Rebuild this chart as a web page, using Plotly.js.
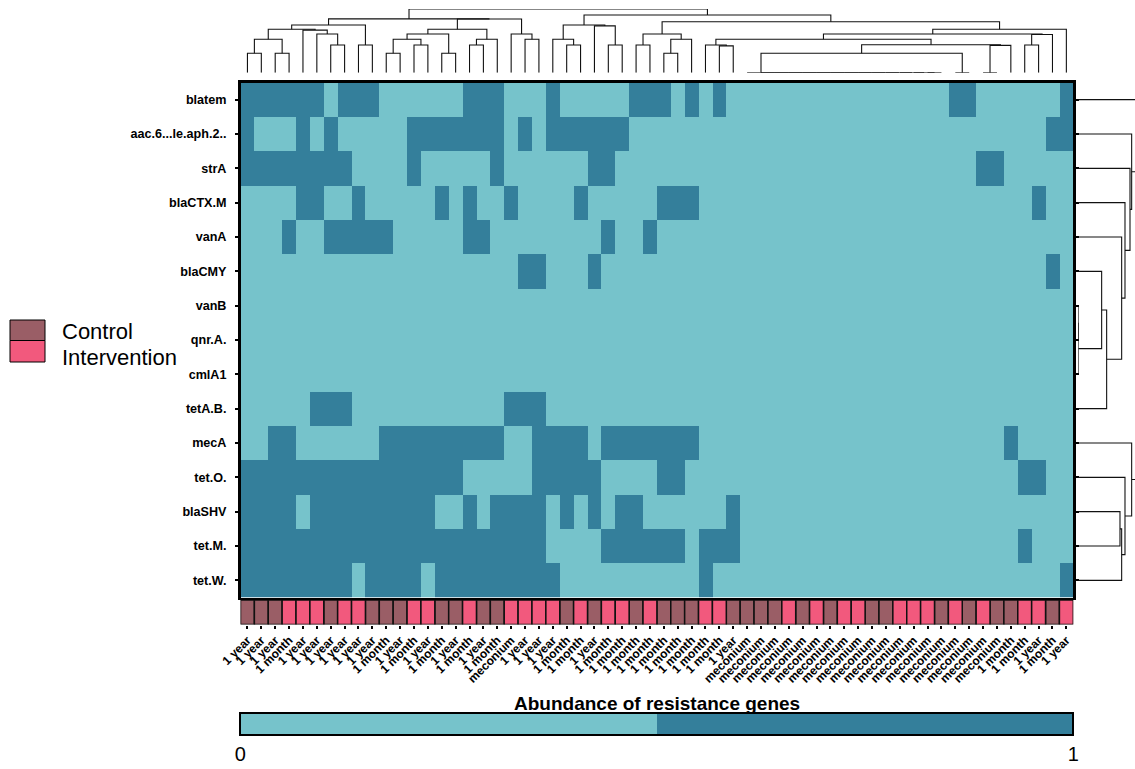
<!DOCTYPE html>
<html><head><meta charset="utf-8">
<script src="https://cdn.plot.ly/plotly-3.0.1.min.js"></script>
<style>body{margin:0;background:#fff;} #chart{width:1135px;height:769px;}</style>
</head><body><div id="chart"></div>
<script>
// ---------------- data ----------------
const genes = ["blatem","aac.6...le.aph.2..","strA","blaCTX.M","vanA","blaCMY","vanB","qnr.A.","cmlA1","tetA.B.","mecA","tet.O.","blaSHV","tet.M.","tet.W."];

const timeLabels = ["1 year","1 year","1 year","1 month","1 year","1 year","1 year","1 year","1 year","1 year",
  "1 month","1 year","1 month","1 year","1 month","1 year","1 month","1 year","1 month","meconium",
  "1 year","1 year","1 year","1 month","1 month","1 year","1 month","1 month","1 month","1 month",
  "1 month","1 month","1 month","1 month","1 month","1 year","meconium","meconium","meconium","meconium",
  "meconium","meconium","meconium","meconium","meconium","meconium","meconium","meconium","meconium","meconium",
  "meconium","meconium","meconium","meconium","meconium","1 month","1 month","1 year","1 month","1 year"];

const group = ["C","C","C","I","I","I","C","I","I","C", "C","C","I","I","C","C","I","C","C","I",
  "I","I","I","C","I","C","I","I","C","I", "C","C","C","I","I","C","C","C","C","I",
  "C","I","C","I","I","C","C","I","I","I", "C","I","C","I","C","C","I","I","C","I"];

// presence (1) / absence (0) per gene, columns 1..60
const rowBlatem  = [1,1,1,1,1,1,0,1,1,1, 0,0,0,0,0,0,1,1,1,0, 0,0,1,0,0,0,0,0,1,1, 1,0,1,0,1,0,0,0,0,0, 0,0,0,0,0,0,0,0,0,0, 0,1,1,0,0,0,0,0,0,1];
const rowAac     = [1,0,0,0,1,0,1,0,0,0, 0,0,1,1,1,1,1,1,1,0, 1,0,1,1,1,1,1,1,0,0, 0,0,0,0,0,0,0,0,0,0, 0,0,0,0,0,0,0,0,0,0, 0,0,0,0,0,0,0,0,1,1];
const rowStrA    = [1,1,1,1,1,1,1,1,0,0, 0,0,1,0,0,0,0,0,1,0, 0,0,0,0,0,1,1,0,0,0, 0,0,0,0,0,0,0,0,0,0, 0,0,0,0,0,0,0,0,0,0, 0,0,0,1,1,0,0,0,0,0];
const rowBlaCTX  = [0,0,0,0,1,1,0,0,1,0, 0,0,0,0,1,0,1,0,0,1, 0,0,0,0,1,0,0,0,0,0, 1,1,1,0,0,0,0,0,0,0, 0,0,0,0,0,0,0,0,0,0, 0,0,0,0,0,0,0,1,0,0];
const rowVanA    = [0,0,0,1,0,0,1,1,1,1, 1,0,0,0,0,0,1,1,0,0, 0,0,0,0,0,0,1,0,0,1, 0,0,0,0,0,0,0,0,0,0, 0,0,0,0,0,0,0,0,0,0, 0,0,0,0,0,0,0,0,0,0];
const rowBlaCMY  = [0,0,0,0,0,0,0,0,0,0, 0,0,0,0,0,0,0,0,0,0, 1,1,0,0,0,1,0,0,0,0, 0,0,0,0,0,0,0,0,0,0, 0,0,0,0,0,0,0,0,0,0, 0,0,0,0,0,0,0,0,1,0];
const rowVanB    = [0,0,0,0,0,0,0,0,0,0, 0,0,0,0,0,0,0,0,0,0, 0,0,0,0,0,0,0,0,0,0, 0,0,0,0,0,0,0,0,0,0, 0,0,0,0,0,0,0,0,0,0, 0,0,0,0,0,0,0,0,0,0];
const rowQnrA    = [0,0,0,0,0,0,0,0,0,0, 0,0,0,0,0,0,0,0,0,0, 0,0,0,0,0,0,0,0,0,0, 0,0,0,0,0,0,0,0,0,0, 0,0,0,0,0,0,0,0,0,0, 0,0,0,0,0,0,0,0,0,0];
const rowCmlA1   = [0,0,0,0,0,0,0,0,0,0, 0,0,0,0,0,0,0,0,0,0, 0,0,0,0,0,0,0,0,0,0, 0,0,0,0,0,0,0,0,0,0, 0,0,0,0,0,0,0,0,0,0, 0,0,0,0,0,0,0,0,0,0];
const rowTetAB   = [0,0,0,0,0,1,1,1,0,0, 0,0,0,0,0,0,0,0,0,1, 1,1,0,0,0,0,0,0,0,0, 0,0,0,0,0,0,0,0,0,0, 0,0,0,0,0,0,0,0,0,0, 0,0,0,0,0,0,0,0,0,0];
const rowMecA    = [0,0,1,1,0,0,0,0,0,0, 1,1,1,1,1,1,1,1,1,0, 0,1,1,1,1,0,1,1,1,1, 1,1,1,0,0,0,0,0,0,0, 0,0,0,0,0,0,0,0,0,0, 0,0,0,0,0,1,0,0,0,0];
const rowTetO    = [1,1,1,1,1,1,1,1,1,1, 1,1,1,1,1,1,0,0,0,0, 0,1,1,1,1,1,0,0,0,0, 1,1,0,0,0,0,0,0,0,0, 0,0,0,0,0,0,0,0,0,0, 0,0,0,0,0,0,1,1,0,0];
const rowBlaSHV  = [1,1,1,1,0,1,1,1,1,1, 1,1,1,1,0,0,1,0,1,1, 1,1,0,1,0,1,0,1,1,0, 0,0,0,0,0,1,0,0,0,0, 0,0,0,0,0,0,0,0,0,0, 0,0,0,0,0,0,0,0,0,0];
const rowTetM    = [1,1,1,1,1,1,1,1,1,1, 1,1,1,1,1,1,1,1,1,1, 1,1,0,0,0,0,1,1,1,1, 1,1,0,1,1,1,0,0,0,0, 0,0,0,0,0,0,0,0,0,0, 0,0,0,0,0,0,1,0,0,0];
const rowTetW    = [1,1,1,1,1,1,1,1,0,1, 1,1,1,0,1,1,1,1,1,1, 1,1,1,0,0,0,0,0,0,0, 0,0,0,1,0,0,0,0,0,0, 0,0,0,0,0,0,0,0,0,0, 0,0,0,0,0,0,0,0,0,1];

// column dendrogram: [left, right, height]; leaves are column positions
const zeroCols = [37,[38,[39,[40,[41,[42,[43,[44,[45,[46,[47,[48,[49,[50,51,0],0],0],0],0],0],0],0],0],0],0],0],0],0];
const colTree = [
  [
    [ [ [[1,2,19.4],[3,4,19.4],33.4], [5,[6,[7,8,27.7],38.7],42.6], 43.4 ], [9,10,27.7], 47.7 ],
    [ [ [ [[11,12,19.4],[13,14,27.7],33.4], [15,16,19.4], 38.7 ], [[17,18,27.7],19,33.4], 43.4 ],
      [20,[21,22,33.4],38.7], 53.7 ],
    53.8
  ],
  [
    [ [23,[24,25,27.7],33.4], [26,[27,28,27.7],46.8], 47.7 ],
    [
      [ [29,30,27.7], [[31,32,19.4],33,33.4], 38.7 ],
      [ [ [ [34,[35,36,26.8],27.7], [ [zeroCols,[52,53,0],19.4], [[54,55,0],56,27.3], 27.9 ], 33.4 ],
          [[57,58,27.7],59,38.2], 38.7 ], 60, 43.4 ],
      51.0
    ],
    57.7
  ],
  63.7
];
// row dendrogram: leaves are row positions (1 = top)
const rowTree = [1, [ [2,[3,[4,[5,[[6,[[7,8,0],9,0],70],10,85],130],140],155],160],
                      [11,[12,[[13,14,125],15,130],140],160], 190 ], 220];

// ---------------- build ----------------
const W = 1135, H = 769;
const px = v => v / W, py = v => 1 - v / H;
const LIGHT = "#76c3cb", DARK = "#347f9b";
const CTRL = "#9a5e66", INTV = "#f2597d";
const FONT = "Liberation Sans, Arial, sans-serif";

const z = [rowBlatem,rowAac,rowStrA,rowBlaCTX,rowVanA,rowBlaCMY,rowVanB,rowQnrA,rowCmlA1,rowTetAB,rowMecA,rowTetO,rowBlaSHV,rowTetM,rowTetW];
const colPos = timeLabels.map((_, i) => i + 1);
const rowPos = genes.map((_, i) => i + 1);

function walk(node, segX, segY) {
  if (typeof node === "number") return {pos: node, h: 0};
  const L = walk(node[0], segX, segY), R = walk(node[1], segX, segY), h = node[2];
  segX.push(L.pos, L.pos, R.pos, R.pos, null);
  segY.push(L.h, h, h, R.h, null);
  return {pos: (L.pos + R.pos) / 2, h: h};
}
const tdP = [], tdH = []; walk(colTree, tdP, tdH);
const rdP = [], rdH = []; walk(rowTree, rdP, rdH);

const X0 = px(240.5), X1 = px(1073.3);

const traces = [
  {
    type: "heatmap", z: z, x: colPos, y: rowPos, xaxis: "x", yaxis: "y",
    zmin: 0, zmax: 1, zsmooth: false,
    colorscale: [[0, LIGHT], [0.5, LIGHT], [0.5, DARK], [1, DARK]],
    showscale: true,
    colorbar: {
      orientation: "h", thicknessmode: "pixels", thickness: 22, lenmode: "pixels", len: 833,
      x: (240.5 + 1073.3) / 2 / W, xanchor: "center", y: py(713), yanchor: "top",
      xpad: 0, ypad: 0, outlinewidth: 2, outlinecolor: "#000",
      tickvals: [0, 1], ticktext: ["0", "1"], ticks: "", tickfont: {size: 20, color: "#000", family: FONT}
    },
    hovertemplate: "%{y}<extra></extra>"
  },
  {
    type: "bar", name: "Control", x: colPos.filter((c, i) => group[i] === "C"),
    y: colPos.filter((c, i) => group[i] === "C").map(() => 1), base: 0, width: 1,
    xaxis: "x3", yaxis: "y2", cliponaxis: false,
    marker: {color: CTRL, line: {color: "#111", width: 1.5}}, showlegend: false
  },
  {
    type: "bar", name: "Intervention", x: colPos.filter((c, i) => group[i] === "I"),
    y: colPos.filter((c, i) => group[i] === "I").map(() => 1), base: 0, width: 1,
    xaxis: "x3", yaxis: "y2", cliponaxis: false,
    marker: {color: INTV, line: {color: "#111", width: 1.5}}, showlegend: false
  },
  {
    type: "scatter", mode: "lines", x: tdP, y: tdH, xaxis: "x4", yaxis: "y3",
    line: {color: "#111", width: 1.1}, hoverinfo: "skip", showlegend: false, connectgaps: false
  },
  {
    type: "scatter", mode: "lines", x: rdH, y: rdP, xaxis: "x2", yaxis: "y",
    line: {color: "#111", width: 1.1}, hoverinfo: "skip", showlegend: false, connectgaps: false
  }
];

const layout = {
  width: W, height: H, margin: {l: 0, r: 0, t: 0, b: 0},
  paper_bgcolor: "#fff", plot_bgcolor: "rgba(0,0,0,0)",
  font: {family: FONT, color: "#000"},
  showlegend: false, barmode: "overlay", bargap: 0,
  xaxis: {domain: [X0, X1], range: [0.5, 60.5], anchor: "y", showticklabels: false, ticks: "",
          showgrid: false, zeroline: false, showline: true, mirror: true, linewidth: 2.5, linecolor: "#000", fixedrange: true},
  yaxis: {domain: [py(597.5), py(82.5)], range: [15.5, 0.5], anchor: "x", tickvals: rowPos, ticktext: genes,
          ticks: "outside", ticklen: 3, tickwidth: 2, tickcolor: "#000", ticklabelstandoff: 6,
          tickfont: {size: 12.6, family: FONT, weight: "bold", color: "#000"},
          showgrid: false, zeroline: false, showline: true, mirror: "ticks", linewidth: 2.5, linecolor: "#000", fixedrange: true},
  xaxis3: {domain: [X0, X1], matches: "x", anchor: "y2", range: [0.5, 60.5], tickvals: colPos, ticktext: timeLabels,
           tickangle: -45, ticks: "outside", ticklen: 3, tickwidth: 2, tickcolor: "#000",
           tickfont: {size: 12, family: FONT, weight: "bold", color: "#000"},
           showgrid: false, zeroline: false, showline: false, fixedrange: true},
  yaxis2: {domain: [py(624.5), py(600)], range: [0, 1], anchor: "x3", visible: false, fixedrange: true},
  xaxis4: {domain: [X0, X1], matches: "x", anchor: "y3", range: [0.5, 60.5], visible: false, fixedrange: true},
  yaxis3: {domain: [py(72.7), py(9)], range: [0, 63.7], anchor: "x4", visible: false, fixedrange: true},
  xaxis2: {domain: [px(1078.3), 1], range: [0, 170], anchor: "y", visible: false, fixedrange: true},
  shapes: [
    {type: "rect", xref: "paper", yref: "paper", x0: px(10), x1: px(45), y0: py(340.5), y1: py(320),
     fillcolor: CTRL, line: {color: "#000", width: 1}},
    {type: "rect", xref: "paper", yref: "paper", x0: px(10), x1: px(45), y0: py(362), y1: py(340.5),
     fillcolor: INTV, line: {color: "#000", width: 1}}
  ],
  annotations: [
    {xref: "paper", yref: "paper", x: px(60), y: py(331), xanchor: "left", yanchor: "middle", showarrow: false,
     text: "Control", font: {size: 22, family: FONT, color: "#000"}},
    {xref: "paper", yref: "paper", x: px(60), y: py(357), xanchor: "left", yanchor: "middle", showarrow: false,
     text: "Intervention", font: {size: 22, family: FONT, color: "#000"}},
    {xref: "paper", yref: "paper", x: (240.5 + 1073.3) / 2 / W, y: py(703), xanchor: "center", yanchor: "middle",
     showarrow: false, text: "<b>Abundance of resistance genes</b>", font: {size: 19, family: FONT, color: "#000"}}
  ]
};

Plotly.newPlot("chart", traces, layout, {displayModeBar: false, staticPlot: true});
</script>
</body></html>
